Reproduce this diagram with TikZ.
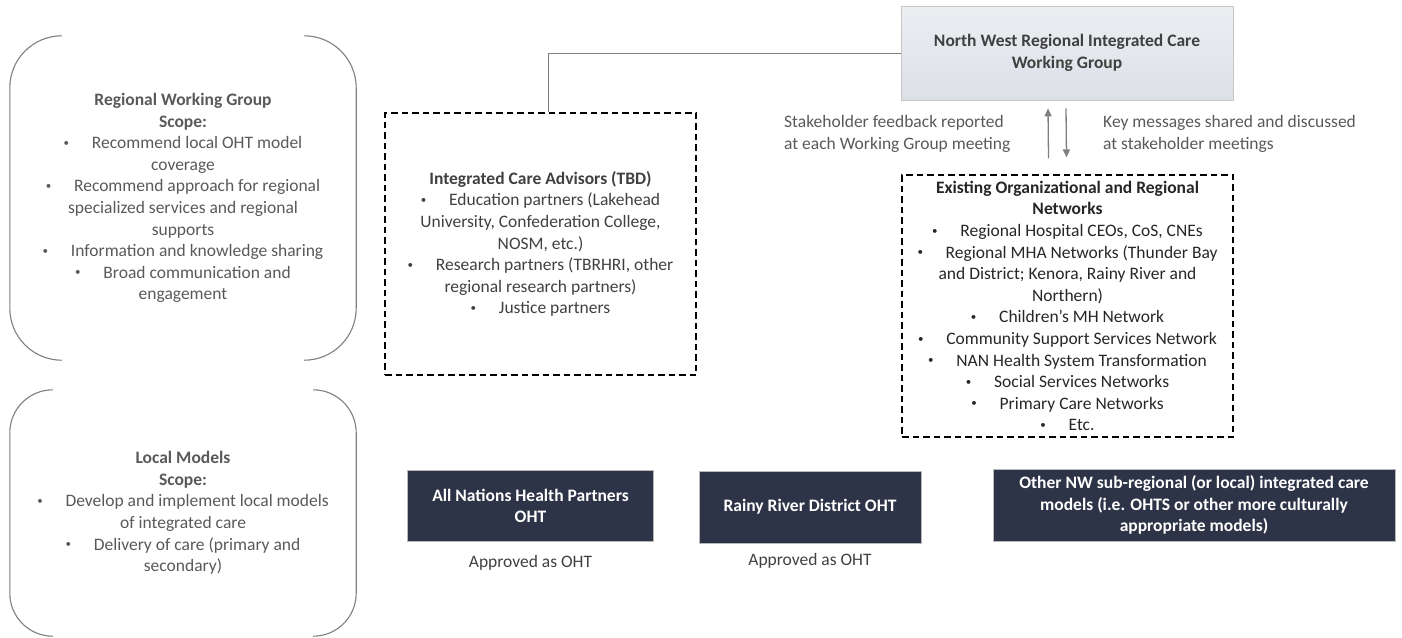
\documentclass[tikz,border=0pt]{standalone}
\usepackage{fontspec}
\setmainfont{Carlito}
\usepackage{xcolor}
\usetikzlibrary{positioning}
\usetikzlibrary{arrows.meta}

\definecolor{scopegray}{HTML}{595959}
\definecolor{textgray}{HTML}{404040}
\definecolor{linegray}{HTML}{7F7F7F}
\definecolor{ohtnavy}{HTML}{2D3447}
\definecolor{groupfill}{HTML}{DCE0E7}

\newcommand{\basefont}{\fontsize{17.5}{21.6}\selectfont}
\newcommand{\bul}{\raisebox{2.4pt}{\fontsize{11}{11}\selectfont\textbullet}\hspace{1.3em}}

\tikzset{
  scopetext/.style={text=scopegray, align=center, inner sep=0pt},
  bracket/.style={draw=linegray, line width=1.1pt},
  advisorbox/.style={draw=black, dashed, dash pattern=on 6.5pt off 4pt,
    line width=1.1pt, align=center, inner sep=0pt},
  ohtbox/.style={fill=ohtnavy, draw=gray!55, line width=0.6pt, text=white,
    font=\basefont\bfseries, align=center, inner sep=0pt},
  note/.style={text=textgray, align=left, inner sep=0pt},
  feedback/.style={draw=linegray, line width=1.3pt, -{Triangle[length=8pt,width=7pt]}},
}

\begin{document}
\begin{tikzpicture}[x=1pt,y=-1pt,font=\basefont]
  \useasboundingbox (0,0) rectangle (1402,637);

  % scope panels on the left
  \node[scopetext, minimum width=346pt, minimum height=324pt] (rwg) at (183,198)
    {\textbf{Regional Working Group}\\ \textbf{Scope:}\\
     \bul Recommend local OHT model\\ coverage\\
     \bul Recommend approach for regional\\ specialized services and regional\\ supports\\
     \bul Information and knowledge sharing\\
     \bul Broad communication and\\ engagement};
  \draw[bracket, rounded corners=52pt] ([xshift=52pt]rwg.north west) -- (rwg.north west)
    -- (rwg.south west) -- ([xshift=52pt]rwg.south west);
  \draw[bracket, rounded corners=52pt] ([xshift=-52pt]rwg.north east) -- (rwg.north east)
    -- (rwg.south east) -- ([xshift=-52pt]rwg.south east);

  \node[scopetext, minimum width=346pt, minimum height=246pt] (lm) at (183,513)
    {\textbf{Local Models}\\ \textbf{Scope:}\\
     \bul Develop and implement local models\\ of integrated care\\
     \bul Delivery of care (primary and\\ secondary)};
  \draw[bracket, rounded corners=43pt] ([xshift=43pt]lm.north west) -- (lm.north west)
    -- (lm.south west) -- ([xshift=43pt]lm.south west);
  \draw[bracket, rounded corners=43pt] ([xshift=-43pt]lm.north east) -- (lm.north east)
    -- (lm.south east) -- ([xshift=-43pt]lm.south east);

  % working group and advisors
  \node[draw=gray!45, line width=0.8pt, top color=groupfill!55!white, bottom color=groupfill,
    minimum width=332pt, minimum height=94pt, text=textgray, font=\basefont\bfseries,
    align=center] (nwg) at (1067,53) {North West Regional Integrated Care\\Working Group};

  \node[advisorbox, text=textgray, minimum width=311pt, minimum height=262pt] (ica) at (540.5,244)
    {\textbf{Integrated Care Advisors (TBD)}\\
     \bul Education partners (Lakehead\\ University, Confederation College,\\ NOSM, etc.)\\
     \bul Research partners (TBRHRI, other\\ regional research partners)\\
     \bul Justice partners};
  \draw[linegray, line width=1pt] (nwg.west) -| ([xshift=8pt]ica.north);

  \node[advisorbox, text=black!85, minimum width=331pt, minimum height=262pt] (eorn) at (1067.5,306)
    {\textbf{Existing Organizational and Regional}\\ \textbf{Networks}\\
     \bul Regional Hospital CEOs, CoS, CNEs\\
     \bul Regional MHA Networks (Thunder Bay\\ and District; Kenora, Rainy River and\\ Northern)\\
     \bul Children’s MH Network\\
     \bul Community Support Services Network\\
     \bul NAN Health System Transformation\\
     \bul Social Services Networks\\
     \bul Primary Care Networks\\
     \bul Etc.};

  % two-way reporting
  \draw[feedback] ([xshift=-19pt,yshift=16pt]eorn.north) -- ([xshift=-19pt,yshift=-8pt]nwg.south);
  \draw[feedback] ([xshift=-1pt,yshift=-8pt]nwg.south) -- ([xshift=-1pt,yshift=17pt]eorn.north);
  \node[note, text=scopegray, anchor=west] (fbk) at (784,134)
    {Stakeholder feedback reported\\at each Working Group meeting};
  \node[note, text=scopegray, anchor=west] (msg) at (1103,134)
    {Key messages shared and discussed\\at stakeholder meetings};

  % local OHT models
  \node[ohtbox, minimum width=246pt, minimum height=71pt] (anp) at (530.5,506)
    {All Nations Health Partners\\OHT};
  \node[ohtbox, minimum width=222pt, minimum height=72pt] (rrd) at (810,507)
    {Rainy River District OHT};
  \node[ohtbox, minimum width=402pt, minimum height=72pt] (onw) at (1194,505)
    {Other NW sub-regional (or local) integrated care\\models (i.e. OHTS or other more culturally\\appropriate models)};
  \node[note, below=13pt of anp] (anpok) {Approved as OHT};
  \node[note, below=10pt of rrd] (rrdok) {Approved as OHT};
\end{tikzpicture}
\end{document}
